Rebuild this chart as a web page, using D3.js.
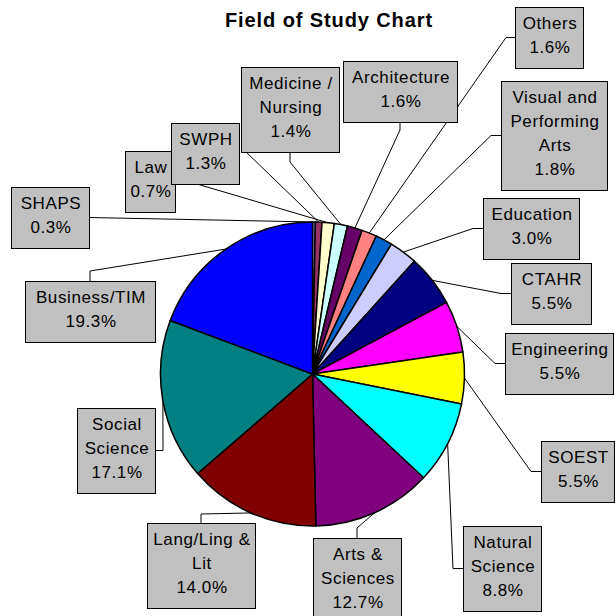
<!DOCTYPE html>
<html>
<head>
<meta charset="utf-8">
<script src="https://cdnjs.cloudflare.com/ajax/libs/d3/7.8.5/d3.min.js"></script>
<style>
  html, body { margin: 0; padding: 0; background: #fff; }
  svg { display: block; }
  .box-text { font-family: "Liberation Sans", Arial, sans-serif; font-size: 17px; letter-spacing: 0.6px; fill: #000; }
  .title { font-family: "Liberation Sans", Arial, sans-serif; font-size: 20px; font-weight: bold; letter-spacing: 0.9px; }
</style>
</head>
<body>
<div id="chart"></div>
<script>
// Field of Study pie chart, slices clockwise from 12 o'clock

const categories = [
    "SHAPS", "Law", "SWPH", "Medicine / Nursing", "Architecture", "Others",
    "Visual and Performing Arts", "Education", "CTAHR", "Engineering", "SOEST",
    "Natural Science", "Arts & Sciences", "Lang/Ling & Lit", "Social Science", "Business/TIM"
];
const shares = [0.3, 0.7, 1.3, 1.4, 1.6, 1.6, 1.8, 3.0, 5.5, 5.5, 5.5, 8.8, 12.7, 14.0, 17.1, 19.3];
const sliceColors = [
    "#9999FF", "#993366", "#FFFFCC", "#CCFFFF", "#660066", "#FF8080", "#0066CC", "#CCCCFF",
    "#000080", "#FF00FF", "#FFFF00", "#00FFFF", "#800080", "#800000", "#008080", "#0000FF"
];

// label boxes (layout only) - same order as categories
const labelBoxes = [
    { x: 11,  y: 187, w: 78,  lines: ["SHAPS"], side: "right", elbow: 0 },
    { x: 125, y: 151, w: 50,  lines: ["Law"], end: [244, 150] },   // leader hidden behind other boxes
    { x: 171, y: 123, w: 68,  lines: ["SWPH"], side: "bottom", dx: -8, elbow: 0 },
    { x: 241, y: 67,  w: 98,  lines: ["Medicine /", "Nursing"], side: "bottom", elbow: 10 },
    { x: 343, y: 61,  w: 114, lines: ["Architecture"], side: "bottom", elbow: 8 },
    { x: 515, y: 7,   w: 68,  lines: ["Others"], side: "left", elbow: 9 },
    { x: 501, y: 81,  w: 106, lines: ["Visual and", "Performing", "Arts"], side: "left", elbow: 10 },
    { x: 483, y: 198, w: 96,  lines: ["Education"], side: "left", elbow: 10 },
    { x: 511, y: 263, w: 80,  lines: ["CTAHR"], side: "left", elbow: 10 },
    { x: 505, y: 333, w: 108, lines: ["Engineering"], side: "left", elbow: 10 },
    { x: 541, y: 441, w: 73,  lines: ["SOEST"], side: "left", elbow: 10 },
    { x: 463, y: 526, w: 78,  lines: ["Natural", "Science"], side: "left", elbow: 10 },
    { x: 313, y: 538, w: 88,  lines: ["Arts &", "Sciences"], side: "top", elbow: 10 },
    { x: 147, y: 523, w: 108, lines: ["Lang/Ling &", "Lit"], side: "top", elbow: 9 },
    { x: 77,  y: 408, w: 78,  lines: ["Social", "Science"], side: "right", elbow: 8 },
    { x: 25,  y: 281, w: 130, lines: ["Business/TIM"], side: "top", elbow: 10 }
];

const width = 615, height = 616;
const cx = 312.5, cy = 374, radius = 152;
const lineHeight = 24;

const svg = d3.select("#chart").append("svg")
    .attr("width", width)
    .attr("height", height);

svg.append("text")
    .attr("class", "title")
    .attr("x", 329)
    .attr("y", 27)
    .attr("text-anchor", "middle")
    .text("Field of Study Chart");

const pie = d3.pie().sort(null).value(d => d);
const arcs = pie(shares);
const arc = d3.arc().innerRadius(0).outerRadius(radius);

const pieG = svg.append("g").attr("transform", `translate(${cx},${cy})`);
pieG.selectAll("path")
    .data(arcs)
    .enter()
    .append("path")
    .attr("d", arc)
    .attr("fill", (d, i) => sliceColors[i])
    .attr("stroke", "#000")
    .attr("stroke-width", 1.5)
    .attr("stroke-linejoin", "round");

const fmt = d3.format(".1f");

// box height from number of text lines (name lines + value line)
const boxHeight = b => (b.lines.length + 1) * lineHeight + 13;

// point on box edge where the leader attaches, plus the elbow
function leaderPoints(d, i) {
    const b = labelBoxes[i];
    const mid = (d.startAngle + d.endAngle) / 2;
    const start = [cx + radius * Math.sin(mid), cy - radius * Math.cos(mid)];
    if (b.end) return [start, b.end];
    const h = boxHeight(b);
    const dx = b.dx || 0;
    let anchor, elbow;
    if (b.side === "left") {
        anchor = [b.x, b.y + h / 2];
        elbow = [b.x - b.elbow, b.y + h / 2];
    } else if (b.side === "right") {
        anchor = [b.x + b.w, b.y + h / 2];
        elbow = [b.x + b.w + b.elbow, b.y + h / 2];
    } else if (b.side === "top") {
        anchor = [b.x + b.w / 2 + dx, b.y];
        elbow = [b.x + b.w / 2 + dx, b.y - b.elbow];
    } else {
        anchor = [b.x + b.w / 2 + dx, b.y + h];
        elbow = [b.x + b.w / 2 + dx, b.y + h + b.elbow];
    }
    return [start, elbow, anchor];
}

svg.append("g").selectAll("polyline")
    .data(arcs)
    .enter()
    .append("polyline")
    .attr("points", (d, i) => leaderPoints(d, i).map(p => p.join(",")).join(" "))
    .attr("fill", "none")
    .attr("stroke", "#000")
    .attr("stroke-width", 1);

const boxes = svg.append("g").selectAll("g")
    .data(arcs)
    .enter()
    .append("g")
    .attr("transform", (d, i) => `translate(${labelBoxes[i].x},${labelBoxes[i].y})`);

boxes.append("rect")
    .attr("x", 0.5)
    .attr("y", 0.5)
    .attr("width", (d, i) => labelBoxes[i].w)
    .attr("height", (d, i) => boxHeight(labelBoxes[i]))
    .attr("fill", "#C0C0C0")
    .attr("stroke", "#000")
    .attr("stroke-width", 1);

boxes.each(function(d, i) {
    const b = labelBoxes[i];
    const textLines = b.lines.concat([fmt(shares[i]) + "%"]);
    const t = d3.select(this).append("text")
        .attr("class", "box-text")
        .attr("text-anchor", "middle");
    textLines.forEach((line, k) => {
        t.append("tspan")
            .attr("x", b.w / 2 + 1)
            .attr("y", 22 + k * lineHeight)
            .text(line);
    });
});
</script>
</body>
</html>
